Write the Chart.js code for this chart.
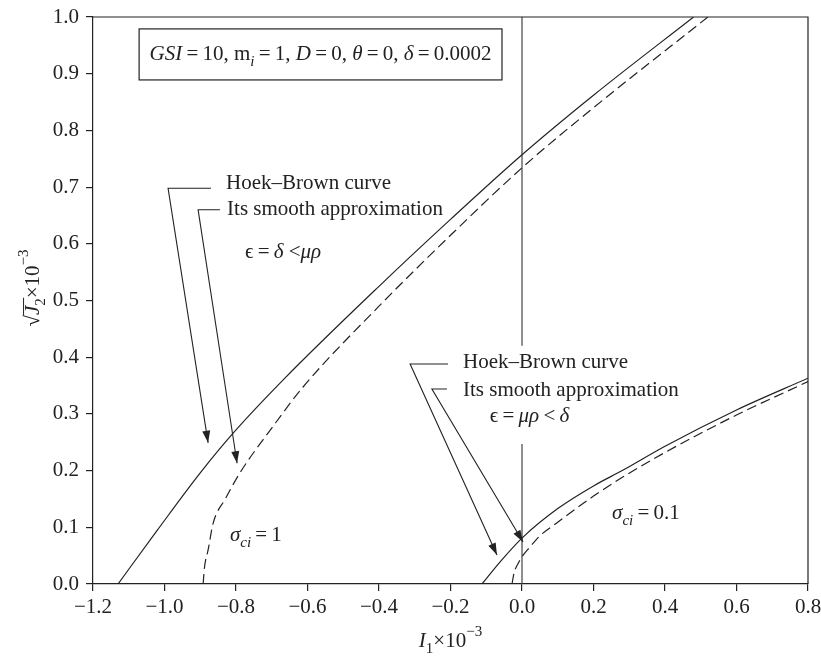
<!DOCTYPE html>
<html>
<head>
<meta charset="utf-8">
<script src="https://cdn.jsdelivr.net/npm/chart.js@4/dist/chart.umd.min.js"></script>
<style>
  body { margin: 0; background: #fff; }
  canvas { display: block; }
</style>
</head>
<body>
<canvas id="hbChart" width="821" height="662"></canvas>
<script>
// --- data (I1 x 10^-3 , sqrt(J2) x 10^-3) ---
const hb1X = [-1.13, -1.02, -0.90, -0.808, -0.668, -0.4, -0.2, 0, 0.2, 0.48];
const hb1Y = [0, 0.095, 0.196, 0.266, 0.36, 0.525, 0.643, 0.757, 0.862, 1.0];

const approx1X = [-0.892, -0.888, -0.878, -0.864, -0.83, -0.789, -0.70, -0.613, -0.4, -0.2, 0, 0.2, 0.52];
const approx1Y = [0, 0.03, 0.06, 0.107, 0.15, 0.196, 0.275, 0.347, 0.49, 0.615, 0.734, 0.84, 1.0];

const hb01X = [-0.112, -0.06, 0, 0.1, 0.2, 0.283, 0.4, 0.6, 0.8];
const hb01Y = [0, 0.04, 0.081, 0.133, 0.173, 0.201, 0.243, 0.307, 0.363];

const approx01X = [-0.028, -0.022, -0.012, 0, 0.022, 0.05, 0.098, 0.2, 0.283, 0.4, 0.6, 0.8];
const approx01Y = [0, 0.02, 0.035, 0.048, 0.065, 0.085, 0.108, 0.155, 0.189, 0.232, 0.298, 0.357];

// vertical line I1 = 0 (broken behind the lower labels)
const zeroLowY = [0, 0.247];
const zeroHighY = [0.42, 1.0];

const xTicks = [-1.2, -1.0, -0.8, -0.6, -0.4, -0.2, 0.0, 0.2, 0.4, 0.6, 0.8];
const yTicks = [0.0, 0.1, 0.2, 0.3, 0.4, 0.5, 0.6, 0.7, 0.8, 0.9, 1.0];

const INK = '#222';
const SERIF = '"Liberation Serif", "DejaVu Serif", serif';
const FS = 21;
const EQ = '\u2009=\u2009';

function pts(xs, ys) { return xs.map((x, i) => ({ x: x, y: ys[i] })); }
function fmt(v) { return Math.abs(v) < 1e-9 ? '0.0' : v.toFixed(1).replace('-', '\u2212'); }

// --- annotations, in data units ---
const arrows = [
  [[-0.870, 0.698], [-0.990, 0.698], [-0.878, 0.249]],
  [[-0.845, 0.660], [-0.906, 0.660], [-0.797, 0.213]],
  [[-0.207, 0.388], [-0.313, 0.388], [-0.070, 0.051]],
  [[-0.210, 0.344], [-0.252, 0.344], [0.003, 0.074]]
];

const labels = [
  { x: -0.828, y: 0.707, parts: [{ t: 'Hoek\u2013Brown curve' }] },
  { x: -0.825, y: 0.660, parts: [{ t: 'Its smooth approximation' }] },
  { x: -0.775, y: 0.584, parts: [{ t: '\u03F5' + EQ }, { t: '\u03B4', it: true }, { t: ' <' }, { t: '\u03BC\u03C1', it: true }] },
  { x: -0.165, y: 0.390, parts: [{ t: 'Hoek\u2013Brown curve' }] },
  { x: -0.165, y: 0.342, parts: [{ t: 'Its smooth approximation' }] },
  { x: -0.090, y: 0.295, parts: [{ t: '\u03F5' + EQ }, { t: '\u03BC\u03C1', it: true }, { t: '\u2009<\u2009' }, { t: '\u03B4', it: true }] },
  { x: -0.817, y: 0.086, parts: [{ t: '\u03C3', it: true }, { t: 'ci', it: true, sub: true }, { t: EQ + '1' }] },
  { x: 0.252, y: 0.125, parts: [{ t: '\u03C3', it: true }, { t: 'ci', it: true, sub: true }, { t: EQ + '0.1' }] }
];

const boxRect = { x1: -1.071, x2: -0.056, y1: 0.979, y2: 0.889 };
const boxParts = [
  { t: 'GSI', it: true }, { t: EQ + '10, m' }, { t: 'i', it: true, sub: true }, { t: EQ + '1, ' },
  { t: 'D', it: true }, { t: EQ + '0, ' }, { t: '\u03B8', it: true }, { t: EQ + '0, ' },
  { t: '\u03B4', it: true }, { t: EQ + '0.0002' }
];

function partFont(p, size) {
  const s = (p.sub || p.sup) ? Math.round(size * 0.72) : size;
  return (p.it ? 'italic ' : '') + s + 'px ' + SERIF;
}
function richWidth(ctx, parts, size) {
  let w = 0;
  parts.forEach(p => { ctx.font = partFont(p, size); w += ctx.measureText(p.t).width; });
  return w;
}
function drawRich(ctx, parts, x, y, size, align) {
  let cx = align === 'center' ? x - richWidth(ctx, parts, size) / 2 : x;
  ctx.textBaseline = 'middle';
  ctx.textAlign = 'left';
  parts.forEach(p => {
    ctx.font = partFont(p, size);
    const dy = p.sub ? size * 0.38 : (p.sup ? -size * 0.42 : 0);
    ctx.fillText(p.t, cx, y + dy);
    if (p.over) {
      const w = ctx.measureText(p.t).width;
      ctx.beginPath();
      ctx.moveTo(cx, y - size * 0.45);
      ctx.lineTo(cx + w + 8, y - size * 0.45);
      ctx.lineWidth = 1;
      ctx.stroke();
    }
    cx += ctx.measureText(p.t).width;
  });
}

const annotate = {
  id: 'annotate',
  afterDatasetsDraw(chart) {
    const { ctx, chartArea: a, scales: { x, y } } = chart;
    const px = v => x.getPixelForValue(v);
    const py = v => y.getPixelForValue(v);
    ctx.save();
    ctx.strokeStyle = INK;
    ctx.fillStyle = INK;

    // frame top + right
    ctx.lineWidth = 1.2;
    ctx.beginPath();
    ctx.moveTo(a.left, a.top); ctx.lineTo(a.right, a.top); ctx.lineTo(a.right, a.bottom);
    ctx.stroke();

    // parameter box
    const bx = px(boxRect.x1), by = py(boxRect.y1);
    const bw = px(boxRect.x2) - bx, bh = py(boxRect.y2) - by;
    ctx.strokeRect(bx, by, bw, bh);
    drawRich(ctx, boxParts, bx + bw / 2, by + bh / 2, FS, 'center');

    // arrows with leaders
    ctx.lineWidth = 1.1;
    arrows.forEach(ar => {
      const p = ar.map(q => [px(q[0]), py(q[1])]);
      ctx.beginPath();
      ctx.moveTo(p[0][0], p[0][1]);
      ctx.lineTo(p[1][0], p[1][1]);
      ctx.lineTo(p[2][0], p[2][1]);
      ctx.stroke();
      const ang = Math.atan2(p[2][1] - p[1][1], p[2][0] - p[1][0]);
      const L = 12, W = 4;
      ctx.beginPath();
      ctx.moveTo(p[2][0], p[2][1]);
      ctx.lineTo(p[2][0] - L * Math.cos(ang) + W * Math.sin(ang), p[2][1] - L * Math.sin(ang) - W * Math.cos(ang));
      ctx.lineTo(p[2][0] - L * Math.cos(ang) - W * Math.sin(ang), p[2][1] - L * Math.sin(ang) + W * Math.cos(ang));
      ctx.closePath();
      ctx.fill();
    });

    // text labels
    labels.forEach(l => drawRich(ctx, l.parts, px(l.x), py(l.y), FS, 'left'));

    // x axis title
    drawRich(ctx, [{ t: 'I', it: true }, { t: '1', sub: true }, { t: '\u00D710' }, { t: '\u22123', sup: true }],
      (a.left + a.right) / 2, 641, FS, 'center');

    // y axis title (rotated)
    ctx.translate(33, 288);
    ctx.rotate(-Math.PI / 2);
    drawRich(ctx, [{ t: '\u221A' }, { t: 'J', it: true, over: true }, { t: '2', sub: true }, { t: '\u00D710' }, { t: '\u22123', sup: true }],
      0, 0, FS, 'center');
    ctx.restore();
  }
};

const lineStyle = { showLine: true, pointRadius: 0, borderColor: INK, borderWidth: 1.2, fill: false };

new Chart(document.getElementById('hbChart').getContext('2d'), {
  type: 'scatter',
  data: {
    datasets: [
      Object.assign({ label: 'Hoek-Brown, sci=1', data: pts(hb1X, hb1Y), cubicInterpolationMode: 'monotone' }, lineStyle),
      Object.assign({ label: 'Smooth approx, sci=1', data: pts(approx1X, approx1Y), cubicInterpolationMode: 'monotone' }, lineStyle, { borderDash: [10, 5] }),
      Object.assign({ label: 'Hoek-Brown, sci=0.1', data: pts(hb01X, hb01Y), cubicInterpolationMode: 'monotone' }, lineStyle),
      Object.assign({ label: 'Smooth approx, sci=0.1', data: pts(approx01X, approx01Y), cubicInterpolationMode: 'monotone' }, lineStyle, { borderDash: [10, 5] }),
      Object.assign({ label: 'I1=0 low', data: pts([0, 0], zeroLowY) }, lineStyle, { borderColor: '#444' }),
      Object.assign({ label: 'I1=0 high', data: pts([0, 0], zeroHighY) }, lineStyle, { borderColor: '#444' })
    ]
  },
  options: {
    responsive: false,
    animation: false,
    devicePixelRatio: 1,
    layout: { padding: { left: 0, right: 13, top: 17, bottom: 0 } },
    plugins: { legend: { display: false }, tooltip: { enabled: false } },
    scales: {
      x: {
        type: 'linear', min: -1.2, max: 0.8,
        afterFit: s => { s.height = 78; s.paddingLeft = 0; s.paddingRight = 0; },
        afterBuildTicks: s => { s.ticks = xTicks.map(v => ({ value: v })); },
        ticks: { callback: v => fmt(v), color: INK, padding: 4, maxRotation: 0, font: { family: SERIF, size: FS } },
        grid: { drawOnChartArea: false, drawTicks: true, tickLength: 7, color: INK, lineWidth: 1.2 },
        border: { display: true, color: INK, width: 1.2 }
      },
      y: {
        type: 'linear', min: 0, max: 1,
        afterFit: s => { s.width = 93; s.paddingTop = 0; s.paddingBottom = 0; },
        afterBuildTicks: s => { s.ticks = yTicks.map(v => ({ value: v })); },
        ticks: { callback: v => fmt(v), color: INK, padding: 7, font: { family: SERIF, size: FS } },
        grid: { drawOnChartArea: false, drawTicks: true, tickLength: 7, color: INK, lineWidth: 1.2 },
        border: { display: true, color: INK, width: 1.2 }
      }
    }
  },
  plugins: [annotate]
});
</script>
</body>
</html>
